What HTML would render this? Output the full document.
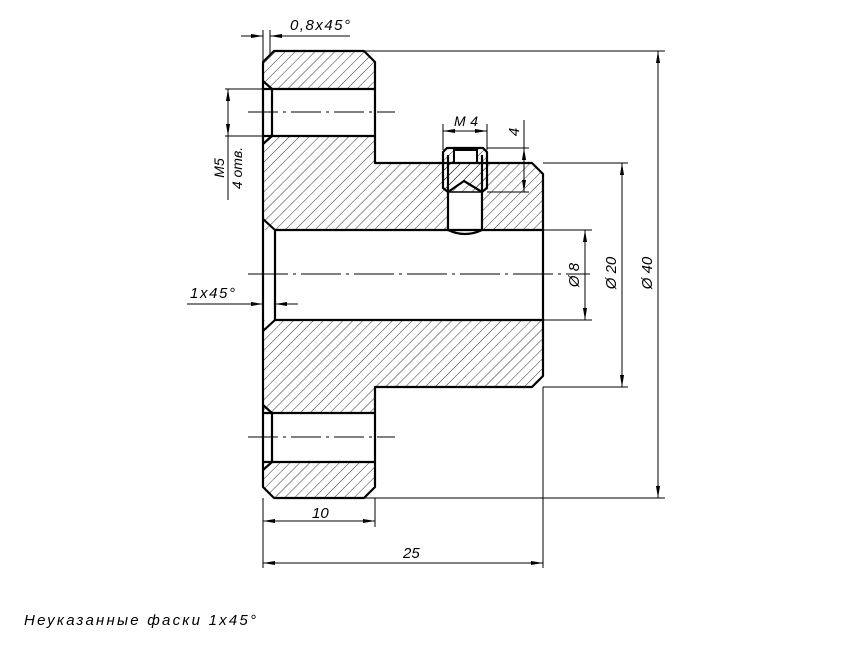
<!DOCTYPE html>
<html><head><meta charset="utf-8"><style>
html,body{margin:0;padding:0;background:#fff}
svg{display:block}
text{font-family:"Liberation Sans","DejaVu Sans",sans-serif;font-style:italic;fill:#000}
</style></head><body>
<svg width="866" height="650" viewBox="0 0 866 650" xmlns="http://www.w3.org/2000/svg">
<defs>
<pattern id="h" patternUnits="userSpaceOnUse" width="7" height="7" patternTransform="rotate(45)">
<line x1="0" y1="0" x2="0" y2="7" stroke="#000" stroke-width="0.8"/>
</pattern>
<marker id="a" viewBox="0 0 10 4" refX="10" refY="2" markerWidth="12" markerHeight="4.8" orient="auto-start-reverse" markerUnits="userSpaceOnUse">
<path d="M0,0.3 L10,2 L0,3.7 Z" fill="#000"/>
</marker>
</defs>
<rect width="866" height="650" fill="#fff"/>

<g fill="url(#h)" stroke="none">
<polygon points="263,62 274,51 364,51 375,62 375,89 263,89"/>
<polygon points="263,136 375,136 375,163 532,163 543,174 543,230 263,230"/>
<polygon points="263,320 543,320 543,376 532,387 375,387 375,413 263,413"/>
<polygon points="263,462 375,462 375,487 364,498 274,498 263,487"/>
</g>
<g fill="#fff" stroke="none">
<rect x="264" y="89" width="111" height="47"/>
<rect x="264" y="413" width="111" height="49"/>
<rect x="264" y="230" width="279" height="90"/>
<path d="M447,192 L483,192 L483,230 Q465,238 447,230 Z"/>
<rect x="441" y="146" width="47" height="17"/>
</g>
<path d="M443,152 L447,148 L483,148 L487,152 L487,188 L482,192 L464,181 L448,192 L443,188 Z" fill="url(#h)"/>
<rect x="454" y="150" width="23" height="13" fill="#fff" stroke="#000" stroke-width="2"/>

<g fill="none" stroke="#000" stroke-width="2.2" stroke-linejoin="round">
<path d="M263,62 L274,51 L364,51 L375,62 L375,163 L532,163 L543,174 L543,376 L532,387 L375,387 L375,487 L364,498 L274,498 L263,487 Z"/>
<line x1="263" y1="89" x2="375" y2="89"/>
<line x1="263" y1="136" x2="375" y2="136"/>
<line x1="272" y1="89" x2="272" y2="136"/>
<path d="M263,81 L272,89 M263,144 L272,136"/>
<line x1="263" y1="413" x2="375" y2="413"/>
<line x1="263" y1="462" x2="375" y2="462"/>
<line x1="272" y1="413" x2="272" y2="462"/>
<path d="M263,405 L272,413 M263,470 L272,462"/>
<line x1="275" y1="230" x2="543" y2="230"/>
<line x1="275" y1="320" x2="543" y2="320"/>
<line x1="275" y1="230" x2="275" y2="320"/>
<path d="M263,219 L275,230 M263,331 L275,320"/>
<path d="M443,152 L447,148 L483,148 L487,152 L487,188 L482,192 L464,181 L448,192 L443,188 Z"/>
<path d="M448,155 L448,192 M482,155 L482,192"/>
<path d="M448,192 L482,192" stroke-width="1.4"/>
<path d="M448,192 L448,230 Q465,238 482,230 L482,192"/>
</g>

<g stroke="#000" stroke-width="1" fill="none">
<line x1="248" y1="274" x2="590" y2="274" stroke-dasharray="40,5,3,5"/>
<line x1="248" y1="112" x2="395" y2="112" stroke-dasharray="30,5,3,5"/>
<line x1="248" y1="437" x2="395" y2="437" stroke-dasharray="30,5,3,5"/>
<line x1="364" y1="51" x2="665" y2="51"/>
<line x1="364" y1="498" x2="665" y2="498"/>
<line x1="543" y1="163" x2="628" y2="163"/>
<line x1="543" y1="387" x2="628" y2="387"/>
<line x1="543" y1="230" x2="592" y2="230"/>
<line x1="543" y1="320" x2="592" y2="320"/>
<line x1="263" y1="498" x2="263" y2="568"/>
<line x1="375" y1="498" x2="375" y2="527"/>
<line x1="543" y1="387" x2="543" y2="568"/>
<line x1="225" y1="89" x2="263" y2="89"/>
<line x1="225" y1="136" x2="263" y2="136"/>
<line x1="263" y1="30" x2="263" y2="62"/>
<line x1="270" y1="30" x2="270" y2="56"/>
<line x1="443" y1="124" x2="443" y2="150"/>
<line x1="487" y1="124" x2="487" y2="150"/>
<line x1="487" y1="148" x2="529" y2="148"/>
<line x1="487" y1="192" x2="529" y2="192"/>
<line x1="658" y1="51" x2="658" y2="498" marker-start="url(#a)" marker-end="url(#a)"/>
<line x1="622" y1="163" x2="622" y2="387" marker-start="url(#a)" marker-end="url(#a)"/>
<line x1="585" y1="230" x2="585" y2="320" marker-start="url(#a)" marker-end="url(#a)"/>
<line x1="263" y1="563" x2="543" y2="563" marker-start="url(#a)" marker-end="url(#a)"/>
<line x1="263" y1="521" x2="375" y2="521" marker-start="url(#a)" marker-end="url(#a)"/>
<line x1="228" y1="89" x2="228" y2="136" marker-start="url(#a)" marker-end="url(#a)"/>
<line x1="228" y1="136" x2="228" y2="200"/>
<line x1="443" y1="131" x2="487" y2="131" marker-start="url(#a)" marker-end="url(#a)"/>
<line x1="524" y1="148" x2="524" y2="192" marker-start="url(#a)" marker-end="url(#a)"/>
<line x1="524" y1="120" x2="524" y2="148"/>
<line x1="241" y1="36" x2="263" y2="36" marker-end="url(#a)"/>
<line x1="350" y1="36" x2="270" y2="36" marker-end="url(#a)"/>
<line x1="187" y1="304" x2="263" y2="304" marker-end="url(#a)"/>
<line x1="298" y1="304" x2="275" y2="304" marker-end="url(#a)"/>
</g>

<text x="290" y="30" font-size="15" textLength="60">0,8x45°</text>
<text x="190" y="298" font-size="15" textLength="45">1x45°</text>
<text x="454" y="126" font-size="14" textLength="24">M4</text>
<text x="403" y="558" font-size="15">25</text>
<text x="312" y="518" font-size="15">10</text>
<text font-size="15" transform="translate(519,132) rotate(-90)" text-anchor="middle">4</text>
<text font-size="15" transform="translate(579,275) rotate(-90)" text-anchor="middle">Ø 8</text>
<text font-size="15" transform="translate(616,273) rotate(-90)" text-anchor="middle">Ø 20</text>
<text font-size="15" transform="translate(652,273) rotate(-90)" text-anchor="middle">Ø 40</text>
<text font-size="14" transform="translate(224,168) rotate(-90)" text-anchor="middle">M5</text>
<text font-size="14" transform="translate(242,168) rotate(-90)" text-anchor="middle">4 отв.</text>
<text x="24" y="625" font-size="15" textLength="232">Неуказанные фаски 1x45°</text>
</svg>
</body></html>
